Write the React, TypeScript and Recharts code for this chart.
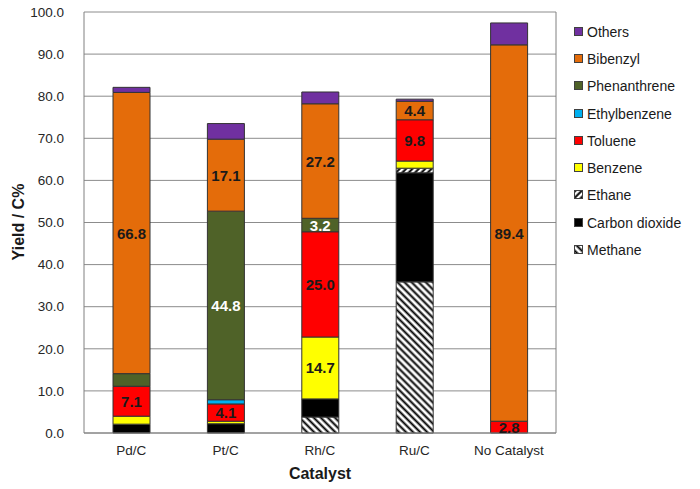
import React from 'react';
import { BarChart, Bar, XAxis, YAxis, CartesianGrid, LabelList } from 'recharts';

const categories = ['Pd/C', 'Pt/C', 'Rh/C', 'Ru/C', 'No Catalyst'];
const methane = [0, 0, 3.8, 35.9, 0];
const carbonDioxide = [2.1, 2.2, 4.3, 25.9, 0];
const ethane = [0, 0, 0, 1.1, 0];
const benzene = [1.9, 0.6, 14.7, 1.7, 0];
const toluene = [7.1, 4.1, 25.0, 9.8, 2.8];
const ethylbenzene = [0, 1.0, 0, 0, 0];
const phenanthrene = [3.0, 44.8, 3.2, 0, 0];
const bibenzyl = [66.8, 17.1, 27.2, 4.4, 89.4];
const others = [1.2, 3.7, 2.8, 0.5, 5.2];
const yTicks = [0, 10, 20, 30, 40, 50, 60, 70, 80, 90, 100];

// which category indices carry a value label, per series
const labelIdx: Record<string, number[]> = {
  toluene: [0, 1, 2, 3, 4],
  benzene: [2],
  phenanthrene: [1, 2],
  bibenzyl: [0, 1, 2, 3, 4],
};

const series = [
  { key: 'methane', name: 'Methane', values: methane, fill: 'url(#hatchMethane)', labelColor: '#1a1a1a' },
  { key: 'co2', name: 'Carbon dioxide', values: carbonDioxide, fill: '#000000', labelColor: '#fff' },
  { key: 'ethane', name: 'Ethane', values: ethane, fill: 'url(#hatchEthane)', labelColor: '#1a1a1a' },
  { key: 'benzene', name: 'Benzene', values: benzene, fill: '#FFFF00', labelColor: '#1a1a1a' },
  { key: 'toluene', name: 'Toluene', values: toluene, fill: '#FF0000', labelColor: '#1a1a1a' },
  { key: 'ethylbenzene', name: 'Ethylbenzene', values: ethylbenzene, fill: '#00B0F0', labelColor: '#1a1a1a' },
  { key: 'phenanthrene', name: 'Phenanthrene', values: phenanthrene, fill: '#4F6228', labelColor: '#ffffff' },
  { key: 'bibenzyl', name: 'Bibenzyl', values: bibenzyl, fill: '#E46C0A', labelColor: '#1a1a1a' },
  { key: 'others', name: 'Others', values: others, fill: '#7030A0', labelColor: '#1a1a1a' },
];

const data = categories.map((c, i) => {
  const row: Record<string, any> = { name: c };
  series.forEach((s) => { row[s.key] = s.values[i]; });
  return row;
});

const FONT = '"Liberation Sans", Arial, sans-serif';

const LegendBox = () => (
  <div style={{ position: 'absolute', left: 574, top: 18, width: 126, fontFamily: FONT, fontSize: 14, color: '#1a1a1a' }}>
    {[...series].reverse().map((s) => (
      <div key={s.key} style={{ display: 'flex', alignItems: 'center', height: 27.3 }}>
        <svg width={10} height={10} style={{ marginRight: 3 }}>
          <rect x={0.5} y={0.5} width={8} height={8} fill={s.fill} stroke="#404040" strokeWidth={1} />
        </svg>
        <span>{s.name}</span>
      </div>
    ))}
  </div>
);

const makeLabel = (key: string, color: string) => (props: any) => {
  const { x, y, width, height, value, index } = props;
  const idx = labelIdx[key] || [];
  if (!idx.includes(index) || !value) return null;
  return (
    <text
      x={x + width / 2}
      y={y + height / 2}
      textAnchor="middle"
      dominantBaseline="central"
      fill={color}
      style={{ fontFamily: FONT, fontSize: 15, fontWeight: 700 }}
    >
      {Number(value).toFixed(1)}
    </text>
  );
};

const YTitle = () => (
  <text
    x={18}
    y={222}
    transform="rotate(-90 18 222)"
    textAnchor="middle"
    dominantBaseline="central"
    fill="#1a1a1a"
    style={{ fontFamily: FONT, fontSize: 16, fontWeight: 700 }}
  >
    Yield / C%
  </text>
);

export default function App() {
  return (
    <div style={{ position: 'absolute', left: 0, top: 0, width: 700, height: 489, background: '#fff' }}>
      <svg width={0} height={0} style={{ position: 'absolute' }}>
        <defs>
          <pattern id="hatchMethane" patternUnits="userSpaceOnUse" width={5} height={5} patternTransform="rotate(-45)">
            <rect x={0} y={0} width={5} height={5} fill="#fff" />
            <line x1={1.5} y1={0} x2={1.5} y2={5} stroke="#000" strokeWidth={2} />
          </pattern>
          <pattern id="hatchEthane" patternUnits="userSpaceOnUse" width={4.5} height={4.5} patternTransform="rotate(45)">
            <rect x={0} y={0} width={4.5} height={4.5} fill="#fff" />
            <line x1={1.5} y1={0} x2={1.5} y2={4.5} stroke="#000" strokeWidth={2} />
          </pattern>
        </defs>
      </svg>
      <BarChart width={700} height={489} data={data} margin={{ top: 12, right: 143, bottom: 0, left: 24 }} barSize={37}>
        <CartesianGrid vertical={false} stroke="#8c8c8c" strokeWidth={1} />
        <XAxis
          dataKey="name"
          height={56}
          axisLine={{ stroke: '#808080' }}
          tickLine={false}
          tickMargin={6}
          tick={{ fill: '#262626', fontSize: 13.5, fontFamily: FONT }}
          label={{ value: 'Catalyst', position: 'insideBottom', offset: 10, style: { fontFamily: FONT, fontSize: 16, fontWeight: 700, fill: '#1a1a1a' } }}
        />
        <YAxis
          width={60}
          domain={[0, 100]}
          ticks={yTicks}
          interval={0}
          tickFormatter={(v: number) => v.toFixed(1)}
          axisLine={{ stroke: '#808080' }}
          tickLine={false}
          tickMargin={14}
          tick={{ fill: '#262626', fontSize: 13.5, fontFamily: FONT }}
          label={<YTitle />}
        />
        <YAxis yAxisId="r" orientation="right" width={1} domain={[0, 100]} tick={false} tickLine={false} axisLine={{ stroke: '#808080' }} />
        {series.map((s) => (
          <Bar
            key={s.key}
            dataKey={s.key}
            name={s.name}
            stackId="a"
            fill={s.fill}
            stroke="#333"
            strokeWidth={1}
            isAnimationActive={false}
          >
            <LabelList dataKey={s.key} content={makeLabel(s.key, s.labelColor)} />
          </Bar>
        ))}
      </BarChart>
      <LegendBox />
    </div>
  );
}
